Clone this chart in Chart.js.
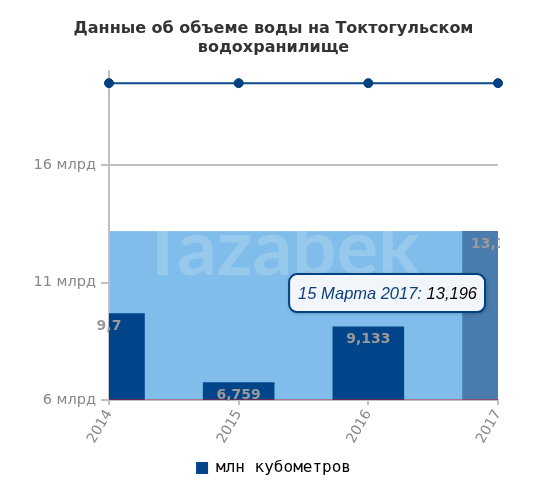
<!DOCTYPE html>
<html>
<head>
<meta charset="utf-8">
<script src="https://cdn.jsdelivr.net/npm/chart.js@4.4.1/dist/chart.umd.min.js"></script>
<style>
  html, body { margin: 0; padding: 0; background: #ffffff; }
  #wrap { width: 535px; height: 486px; position: relative; }
</style>
</head>
<body>
<div id="wrap"><canvas id="c" width="535" height="486"></canvas></div>
<script>
// ---- data ----
const titleLines = ['Данные об объеме воды на Токтогульском', 'водохранилище'];
const categories = ['2014', '2015', '2016', '2017'];
const tooltipDates = ['15 Марта 2014', '15 Марта 2015', '15 Марта 2016', '15 Марта 2017'];
const volumes = [9.7, 6.759, 9.133, 13.196];          // млн кубометров (shown in млрд scale)
const capacityLine = [19.5, 19.5, 19.5, 19.5];
const baseLine = [6, 6, 6, 6];
const yTickValues = [6, 11, 16];
const yMin = 6, yMax = 20;
const seriesName = 'млн кубометров';
const activeIndex = 3;
const watermark = 'Tazabek';

const fmt = v => String(v).replace('.', ',');

const barColor = '#00458a';
const barHover = '#4a7cad';
const areaColor = '#80bdea';

const highlightPlugin = {
  id: 'highlight',
  beforeDatasetsDraw(chart) {
    const ctx = chart.ctx, a = chart.chartArea, y = chart.scales.y;
    const top = y.getPixelForValue(volumes[activeIndex]);
    ctx.save();
    ctx.fillStyle = areaColor;
    ctx.fillRect(a.left + 1, top, a.right - a.left - 1, a.bottom - top);
    ctx.beginPath();
    ctx.rect(a.left + 1, top, a.right - a.left - 1, a.bottom - top);
    ctx.clip();
    ctx.fillStyle = 'rgba(255,255,255,0.18)';
    ctx.font = '700 78px Lato, "Open Sans", sans-serif';
    ctx.textAlign = 'center';
    ctx.textBaseline = 'alphabetic';
    ctx.fillText(watermark, (a.left + a.right) / 2 - 24, top + 44);
    ctx.restore();
  },
  afterDatasetsDraw(chart) {
    const ctx = chart.ctx, a = chart.chartArea;
    const meta = chart.getDatasetMeta(0);
    ctx.save();
    ctx.beginPath();
    ctx.rect(0, 0, a.right + 2, chart.height);
    ctx.clip();
    ctx.font = 'bold 14px "DejaVu Sans", sans-serif';
    ctx.fillStyle = '#9a9a9a';
    ctx.textAlign = 'center';
    ctx.textBaseline = 'middle';
    meta.data.forEach((bar, i) => {
      ctx.fillText(fmt(volumes[i]), bar.x, bar.y + 13);
    });
    ctx.restore();
  },
  afterDraw(chart) {
    const ctx = chart.ctx;
    const bar = chart.getDatasetMeta(0).data[activeIndex];
    const part1 = tooltipDates[activeIndex] + ': ';
    const part2 = fmt(volumes[activeIndex]);
    ctx.save();
    ctx.font = 'italic 16.5px "Liberation Sans", Arial, sans-serif';
    const w1 = ctx.measureText(part1).width, w2 = ctx.measureText(part2).width;
    const bw = w1 + w2 + 17, bh = 38;
    const bx = bar.x - 13 - bw, by = bar.y + 43;
    ctx.shadowColor = 'rgba(0,0,0,0.3)';
    ctx.shadowBlur = 4;
    ctx.shadowOffsetX = 1;
    ctx.shadowOffsetY = 1;
    ctx.beginPath();
    ctx.roundRect(bx, by, bw, bh, 8);
    ctx.fillStyle = '#f2f6fb';
    ctx.fill();
    ctx.shadowColor = 'transparent';
    ctx.lineWidth = 2;
    ctx.strokeStyle = '#00417f';
    ctx.stroke();
    ctx.textBaseline = 'middle';
    ctx.textAlign = 'left';
    ctx.fillStyle = '#0b3f7c';
    ctx.fillText(part1, bx + 9, by + bh / 2 + 1);
    ctx.fillStyle = '#000000';
    ctx.fillText(part2, bx + 9 + w1, by + bh / 2 + 1);
    ctx.restore();
  }
};

new Chart(document.getElementById('c'), {
  data: {
    labels: categories,
    datasets: [
      {
        type: 'bar',
        label: seriesName,
        data: volumes,
        backgroundColor: ctx => ctx.dataIndex === activeIndex ? barHover : barColor,
        borderWidth: 0,
        barPercentage: 0.69,
        categoryPercentage: 0.8,
        order: 3
      },
      {
        type: 'line',
        label: 'base',
        data: baseLine,
        borderColor: 'rgba(225,20,20,0.85)',
        borderWidth: 1.2,
        pointRadius: 0,
        order: 2
      },
      {
        type: 'line',
        label: 'capacity',
        data: capacityLine,
        borderColor: '#0a4a8c',
        borderWidth: 2,
        pointRadius: 4.5,
        pointBackgroundColor: '#00417f',
        pointBorderColor: '#00417f',
        pointBorderWidth: 1,
        order: 1
      }
    ]
  },
  options: {
    responsive: false,
    animation: false,
    events: [],
    layout: { padding: { top: 9, left: 12, right: 0, bottom: 0 } },
    plugins: {
      title: {
        display: true,
        text: titleLines,
        color: '#333333',
        font: { family: '"DejaVu Sans", sans-serif', size: 16, weight: 'bold', lineHeight: 1.2 },
        padding: { top: 10, bottom: 14 }
      },
      legend: {
        display: true,
        position: 'bottom',
        labels: {
          boxWidth: 12,
          boxHeight: 12,
          color: '#000000',
          font: { family: '"DejaVu Sans Mono", monospace', size: 16 },
          generateLabels: chart => [{
            text: seriesName, fillStyle: barColor, strokeStyle: barColor, lineWidth: 0, datasetIndex: 0, hidden: false
          }]
        }
      },
      tooltip: { enabled: false }
    },
    scales: {
      x: {
        offset: false,
        grid: { offset: false, drawOnChartArea: false, drawTicks: true, tickLength: 5, color: '#c0c0c0', lineWidth: 2 },
        border: { color: '#c0c0c0', width: 2 },
        ticks: {
          color: '#888888',
          font: { family: '"DejaVu Sans", sans-serif', size: 14 },
          minRotation: 60, maxRotation: 60,
          padding: 2
        },
        afterFit: s => { s.paddingRight = 37; s.height = 50; }
      },
      y: {
        min: yMin, max: yMax,
        afterBuildTicks: s => { s.ticks = yTickValues.map(v => ({ value: v })); },
        afterFit: s => { s.width = 97; },
        grid: { color: '#c0c0c0', lineWidth: 2, tickLength: 8 },
        border: { color: '#c0c0c0', width: 2 },
        ticks: {
          color: '#888888',
          font: { family: '"DejaVu Sans", sans-serif', size: 14.5 },
          padding: 5,
          callback: v => v + ' млрд'
        }
      }
    }
  },
  plugins: [highlightPlugin]
});
</script>
</body>
</html>
